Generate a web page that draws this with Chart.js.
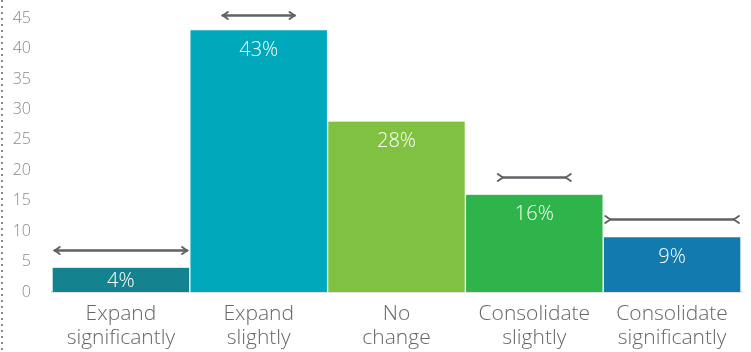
<!DOCTYPE html>
<html>
<head>
<meta charset="utf-8">
<script src="https://cdn.jsdelivr.net/npm/chart.js@4/dist/chart.umd.min.js"></script>
<style>
  html, body { margin: 0; padding: 0; background: #fff; }
  #wrap { width: 751px; height: 352px; position: relative; }
</style>
</head>
<body>
<div id="wrap"><canvas id="c" width="751" height="352"></canvas></div>
<script>
// ---- data ----
const categories = [["Expand", "significantly"], ["Expand", "slightly"], ["No", "change"], ["Consolidate", "slightly"], ["Consolidate", "significantly"]];
const shares = [4, 43, 28, 16, 9];
const barColors = ["#15838F", "#00A8BC", "#80C142", "#2FB34B", "#137AB0"];
const arrowLevels = [6.9, 45.6, null, 18.9, 12];
const arrowTypes = ["out", "out", null, "in", "in"];
const arrowSpans = [0.96, 0.52, null, 0.53, 0.97];
const yTicks = [0, 5, 10, 15, 20, 25, 30, 35, 40, 45];

const decor = {
  id: 'decor',
  afterDatasetsDraw(chart) {
    const ctx = chart.ctx;
    const xs = chart.scales.x, ys = chart.scales.y;
    const meta = chart.getDatasetMeta(0);
    ctx.save();
    // dotted left rule
    ctx.strokeStyle = '#8a8a8a';
    ctx.lineWidth = 2;
    ctx.setLineDash([2, 4]);
    ctx.beginPath(); ctx.moveTo(2, 0); ctx.lineTo(2, chart.height); ctx.stroke();
    ctx.setLineDash([]);
    // value labels
    ctx.fillStyle = '#fff';
    ctx.font = '300 20px "Open Sans"';
    ctx.textAlign = 'center'; ctx.textBaseline = 'middle';
    meta.data.forEach((bar, i) => {
      const top = bar.y, base = bar.base;
      const y = Math.min(top + 20, (top + base) / 2 + 1);
      ctx.fillText(shares[i] + '%', bar.x, y);
    });
    // arrows
    ctx.strokeStyle = '#5f6267';
    ctx.lineCap = 'round';
    const catW = (xs.right - xs.left) / categories.length;
    arrowLevels.forEach((v, i) => {
      if (v == null) return;
      const cx = xs.getPixelForValue(i);
      const half = catW * arrowSpans[i] / 2;
      const y = Math.round(ys.getPixelForValue(v)) + 0.5;
      const x0 = cx - half, x1 = cx + half;
      const a = 5, b = 3.5;
      const inward = arrowTypes[i] === 'in';
      ctx.lineWidth = 2.5;
      ctx.beginPath();
      ctx.moveTo(inward ? x0 + a : x0, y); ctx.lineTo(inward ? x1 - a : x1, y);
      ctx.stroke();
      ctx.lineWidth = 2;
      ctx.beginPath();
      if (!inward) {
        ctx.moveTo(x0 + a, y - b); ctx.lineTo(x0, y); ctx.lineTo(x0 + a, y + b);
        ctx.moveTo(x1 - a, y - b); ctx.lineTo(x1, y); ctx.lineTo(x1 - a, y + b);
      } else {
        ctx.moveTo(x0, y - b); ctx.lineTo(x0 + a, y); ctx.lineTo(x0, y + b);
        ctx.moveTo(x1, y - b); ctx.lineTo(x1 - a, y); ctx.lineTo(x1, y + b);
      }
      ctx.stroke();
    });
    ctx.restore();
  }
};

new Chart(document.getElementById('c'), {
  type: 'bar',
  data: {
    labels: categories,
    datasets: [{
      data: shares,
      backgroundColor: barColors,
      borderColor: '#ffffff',
      borderWidth: { left: 1, right: 1, top: 0, bottom: 0 },
      borderSkipped: false,
      barPercentage: 1,
      categoryPercentage: 1
    }]
  },
  options: {
    responsive: false,
    animation: false,
    devicePixelRatio: 1,
    layout: { padding: { left: 0, right: 10, top: 6, bottom: 0 } },
    plugins: { legend: { display: false }, tooltip: { enabled: false } },
    scales: {
      x: {
        grid: { display: false, drawTicks: false },
        border: { display: true, color: '#c8c8c8', width: 1.5 },
        ticks: {
          color: '#666',
          font: { family: '"Open Sans"', size: 21, weight: '300', lineHeight: 1.13 },
          padding: 10,
          maxRotation: 0, autoSkip: false
        },
        afterFit(s) { s.height = 60; }
      },
      y: {
        min: 0, max: 47,
        grid: { display: false, drawTicks: false },
        border: { display: false },
        ticks: {
          stepSize: 5,
          color: '#888',
          font: { family: '"Open Sans"', size: 16, weight: '300' },
          padding: 21
        },
        afterBuildTicks(s) { s.ticks = yTicks.map(v => ({ value: v })); },
        afterFit(s) { s.width = 52; s.paddingTop = 0; s.paddingBottom = 0; }
      }
    }
  },
  plugins: [decor]
});
</script>
</body>
</html>
